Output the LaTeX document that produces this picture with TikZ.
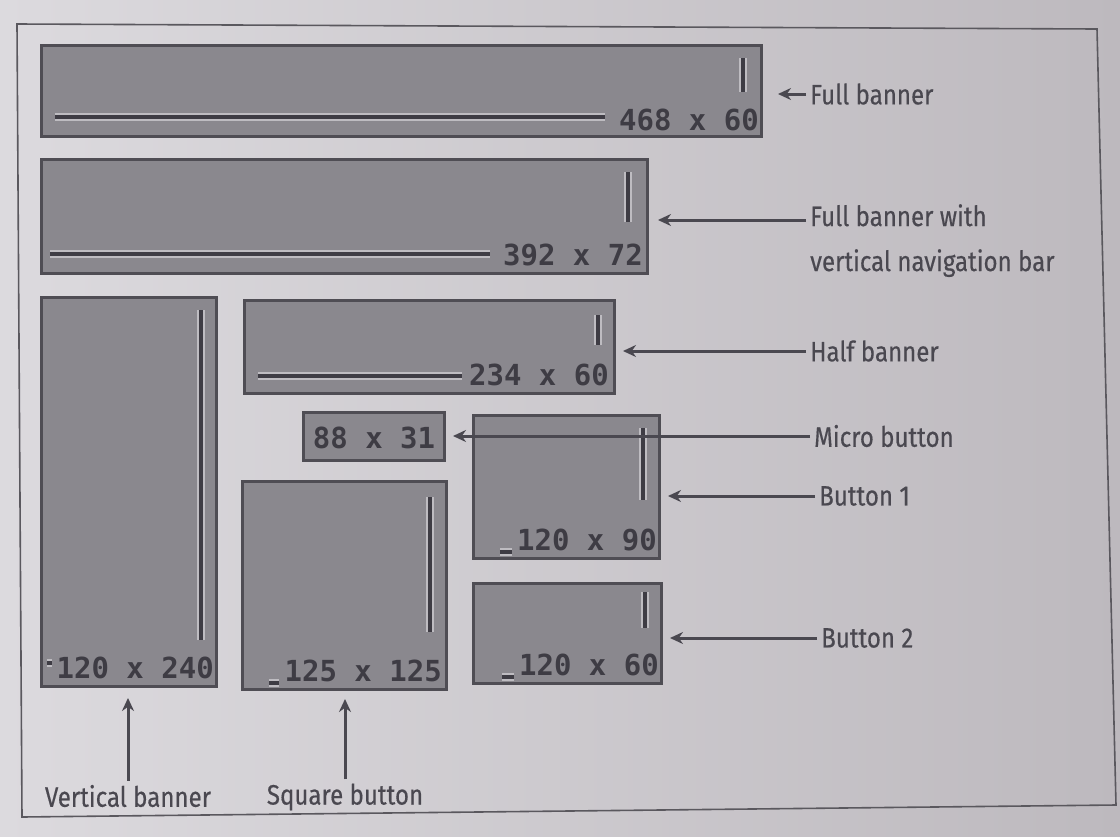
\documentclass[tikz,border=0pt]{standalone}
\usepackage{fontspec}
\setmainfont{Fira Sans}
\newfontfamily\lblfont{Fira Sans}[FakeStretch=0.86,FakeBold=0.4]
\newfontfamily\dimfont{DejaVu Sans Mono Bold}
\usetikzlibrary{arrows.meta}
\definecolor{pageL}{HTML}{DCDADE}
\definecolor{pageR}{HTML}{BDB9BE}
\definecolor{boxfill}{HTML}{8A888E}
\definecolor{boxedge}{HTML}{4F4D54}
\definecolor{halo}{HTML}{BEBCC1}
\definecolor{dimtext}{HTML}{3E3C44}
\definecolor{inktext}{HTML}{4A4850}
\definecolor{framecol}{HTML}{5A585E}
\newcommand\drawbar[2]{\draw[halobar] #1 -- #2; \draw[darkbar] #1 -- #2;}
\begin{document}
\begin{tikzpicture}[x=1pt,y=-1pt,
  adbox/.style={draw=boxedge, line width=3pt, fill=boxfill, inner sep=0pt,
    anchor=north west, minimum width=#1},
  dimlabel/.style={inner sep=0pt, text=dimtext, font=\dimfont\fontsize{29}{31}\selectfont},
  sidelabel/.style={text=inktext, inner sep=4pt, anchor=west,
    font=\lblfont\fontsize{28}{34}\selectfont},
  botlabel/.style={text=inktext, inner sep=4pt,
    font=\lblfont\fontsize{28}{34}\selectfont},
  arr/.style={draw=inktext, line width=3pt, -{Stealth[length=13pt,width=12pt]}},
  halobar/.style={draw=halo, line width=8pt},
  darkbar/.style={draw=dimtext, line width=3.5pt},
  framestyle/.style={draw=framecol, line width=1.6pt}]
\useasboundingbox (0,0) rectangle (1120,836);
\shade[left color=pageL, right color=pageR] (0,0) rectangle (1120,836);
\draw[framestyle] (17,24) -- (1097,29) -- (1116,805) -- (22,817) -- cycle;

% boxes
\node[adbox=720pt, minimum height=91pt]  (fb)  at (40,44)  {};
\node[adbox=606pt, minimum height=114pt] (fbn) at (40,158) {};
\node[adbox=175pt, minimum height=389pt] (vb)  at (40,296) {};
\node[adbox=370pt, minimum height=93pt]  (hb)  at (243,299) {};
\node[adbox=141pt, minimum height=48pt]  (mb)  at (302,411) {};
\node[adbox=186pt, minimum height=143pt] (bt1) at (472,414) {};
\node[adbox=204pt, minimum height=208pt] (sq)  at (241,480) {};
\node[adbox=188pt, minimum height=100pt] (bt2) at (472,582) {};

% size texts
\node[dimlabel, anchor=base east] (tfb)  at ([xshift=-4pt,yshift=8pt]fb.south east)  {468 x 60};
\node[dimlabel, anchor=base east] (tfbn) at ([xshift=-6pt,yshift=10pt]fbn.south east) {392 x 72};
\node[dimlabel, anchor=base east] (tvb)  at ([xshift=-4pt,yshift=10pt]vb.south east)  {120 x 240};
\node[dimlabel, anchor=base east] (thb)  at ([xshift=-7pt,yshift=10pt]hb.south east)  {234 x 60};
\node[dimlabel] (tmb) at ([yshift=-1pt]mb.center) {88 x 31};
\node[dimlabel, anchor=base east] (tbt1) at ([xshift=-4pt,yshift=10pt]bt1.south east) {120 x 90};
\node[dimlabel, anchor=base east] (tsq)  at ([xshift=-6pt,yshift=10pt]sq.south east)  {125 x 125};
\node[dimlabel, anchor=base east] (tbt2) at ([xshift=-4pt,yshift=10pt]bt2.south east) {120 x 60};

% inner bars
\drawbar{(55,117)}{(605,117)}
\drawbar{(743,58)}{(743,92)}
\drawbar{(50,254)}{(490,254)}
\drawbar{(628,172)}{(628,222)}
\drawbar{(201,310)}{(201,640)}
\drawbar{(47,663)}{(52,663)}
\drawbar{(258,376)}{(462,376)}
\drawbar{(598,315)}{(598,345)}
\drawbar{(643,428)}{(643,500)}
\drawbar{([xshift=-17pt,yshift=-2pt]tbt1.base west)}{([xshift=-5pt,yshift=-2pt]tbt1.base west)}
\drawbar{(430,497)}{(430,632)}
\drawbar{([xshift=-15pt,yshift=-2pt]tsq.base west)}{([xshift=-5pt,yshift=-2pt]tsq.base west)}
\drawbar{(645,592)}{(645,628)}
\drawbar{([xshift=-17pt,yshift=-2pt]tbt2.base west)}{([xshift=-5pt,yshift=-2pt]tbt2.base west)}

% side labels
\node[sidelabel] (lfb)  at (806,94)  {Full banner};
\node[sidelabel, anchor=north west, align=left] (lfbn) at (806,200)
  {Full banner with\\[11pt]vertical navigation bar};
\node[sidelabel] (lhb)  at (806,351) {Half banner};
\node[sidelabel] (lmb)  at (810,436) {Micro button};
\node[sidelabel] (lbt1) at (815,496) {Button 1};
\node[sidelabel] (lbt2) at (817,638) {Button 2};
\node[botlabel] (lvb) at (128,796) {Vertical banner};
\node[botlabel] (lsq) at (345,797) {Square button};

% arrows
\coordinate (afbn) at ([yshift=-20pt]lfbn.north west);
\draw[arr] (lfb.west)  -- ([xshift=15pt]fb.east |- lfb.west);
\draw[arr] (afbn)      -- ([xshift=9pt]fbn.east |- afbn);
\draw[arr] (lhb.west)  -- ([xshift=7pt]hb.east |- lhb.west);
\draw[arr] (lmb.west)  -- ([xshift=7pt]mb.east |- lmb.west);
\draw[arr] (lbt1.west) -- ([xshift=7pt]bt1.east |- lbt1.west);
\draw[arr] (lbt2.west) -- ([xshift=7pt]bt2.east |- lbt2.west);
\draw[arr] (lvb.north) -- ([yshift=-10pt]vb.south -| lvb.north);
\draw[arr] (lsq.north) -- ([yshift=-8pt]sq.south -| lsq.north);
\end{tikzpicture}
\end{document}
